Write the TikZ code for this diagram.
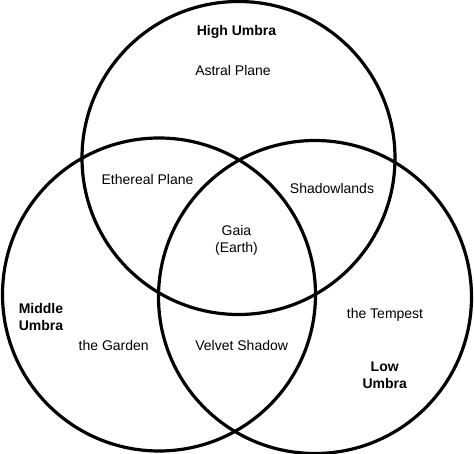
\documentclass[tikz,border=0pt]{standalone}
\usepackage{fontspec}
\setmainfont{Liberation Sans}
\begin{document}
\begin{tikzpicture}[x=1pt,y=-1pt,
  ring/.style={draw=black,line width=3.2pt},
  lbl/.style={font=\fontsize{14}{17.5}\selectfont,align=center,inner sep=0pt},
  bold/.style={lbl,font=\fontsize{14}{17.5}\selectfont\bfseries}]
\useasboundingbox (0,0) rectangle (474,454);
\node[ring,circle,minimum size=313pt,inner sep=0pt] (high) at (238.5,158) {};
\node[ring,circle,minimum size=313pt,inner sep=0pt] (middle) at (159,294.5) {};
\node[ring,circle,minimum size=313pt,inner sep=0pt] (low) at (315,297) {};
\node[bold] (hu) at (236.5,32) {High Umbra};
\node[lbl] (astral) at (233,70) {Astral Plane};
\node[lbl] (ethereal) at (147.5,179) {Ethereal Plane};
\node[lbl] (shadow) at (332,188) {Shadowlands};
\node[lbl] (gaia) at (236.5,240.5) {Gaia\\(Earth)};
\node[bold] (mu) at (41,317) {Middle\\Umbra};
\node[lbl] (garden) at (113.7,345) {the Garden};
\node[lbl] (velvet) at (241.7,345) {Velvet Shadow};
\node[lbl] (tempest) at (385,315) {the Tempest};
\node[bold] (lu) at (384.7,375.5) {Low\\Umbra};
\end{tikzpicture}
\end{document}
